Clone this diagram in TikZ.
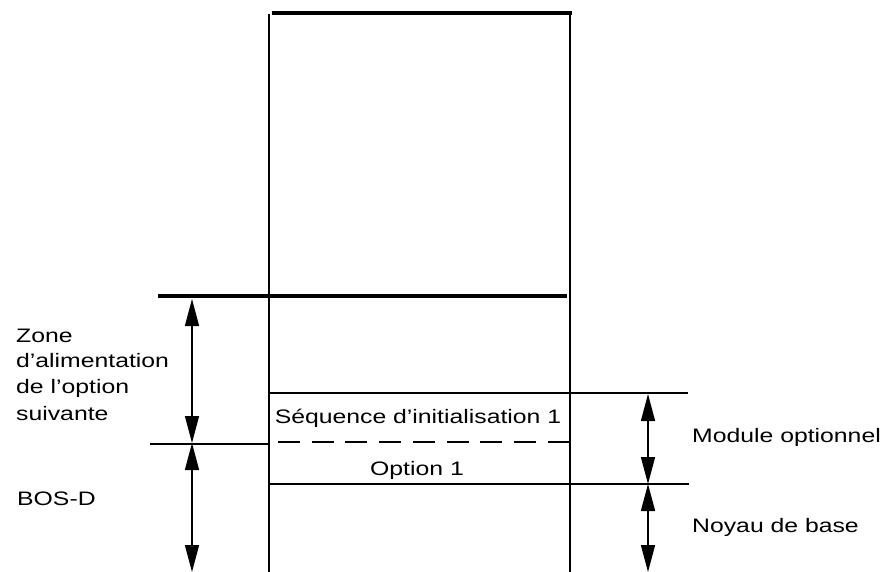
\documentclass[tikz,border=0pt]{standalone}
\usepackage{fontspec}
\setmainfont{Liberation Sans}[FakeStretch=1.27]
\usetikzlibrary{arrows.meta}
\begin{document}
\begin{tikzpicture}[x=1pt,y=-1pt,
  heavy/.style={line width=4.3pt},
  mid line/.style={line width=2.8pt},
  dimtip/.tip={Triangle[length=27pt,width=14pt]},
  dim/.style={line width=1.5pt,dimtip-dimtip},
  lbl/.style={font=\fontsize{19.5}{22}\selectfont, inner sep=0pt, anchor=base west},
  lblc/.style={font=\fontsize{19.5}{22}\selectfont, inner sep=0pt, anchor=base}]
\useasboundingbox (0,0) rectangle (880,572);
% verticals
\coordinate (VLt) at (269,14);
\coordinate (VLb) at (269,572);
\coordinate (VRt) at (570,14);
\coordinate (VRb) at (570,572);
\draw[mid line] (VLt) -- (VLb);
\draw[mid line] (VRt) -- (VRb);
% top line
\coordinate (T1) at (272,13);
\coordinate (T2) at (572,13);
\draw[heavy] (T1) -- (T2);
% line at 296
\coordinate (A1) at (158,296);
\coordinate (A2) at (567,296);
\draw[heavy] (A1) -- (A2);
% line at 393
\coordinate (B1) at (269,393);
\coordinate (B2) at (688,393);
\draw[mid line] (B1) -- (B2);
% left solid + dashed at 443
\coordinate (C1) at (150,444);
\coordinate (C2) at (269,444);
\coordinate (C3) at (278,442);
\coordinate (C4) at (570,442);
\draw[mid line] (C1) -- (C2);
\draw[mid line,dash pattern=on 22pt off 11.7pt] (C3) -- (C4);
% line at 484
\coordinate (D1) at (269,484);
\coordinate (D2) at (689,484);
\draw[mid line] (D1) -- (D2);
% dimension arrows left
\coordinate (L1) at (192,299);
\coordinate (L2) at (192,443);
\coordinate (L3) at (192,572);
\draw[dim] (L1) -- (L2);
\draw[dim] (L2) -- (L3);
% dimension arrows right
\coordinate (R1) at (648,394);
\coordinate (R2) at (648,484);
\coordinate (R3) at (648,572);
\draw[dim] (R1) -- (R2);
\draw[dim] (R2) -- (R3);
% labels
\node[lbl] (z1) at (16,342) {Zone};
\node[lbl] (z2) at (16,367) {d'alimentation};
\node[lbl] (z3) at (16,393) {de l'option};
\node[lbl] (z4) at (16,420) {suivante};
\node[lbl] (bos) at (17,505) {BOS-D};
\node[lblc] (seq) at (418,423) {Séquence d'initialisation 1};
\node[lblc] (opt) at (417,475) {Option 1};
\node[lbl] (mod) at (692,442) {Module optionnel};
\node[lbl] (noy) at (692,532) {Noyau de base};
\end{tikzpicture}
\end{document}
